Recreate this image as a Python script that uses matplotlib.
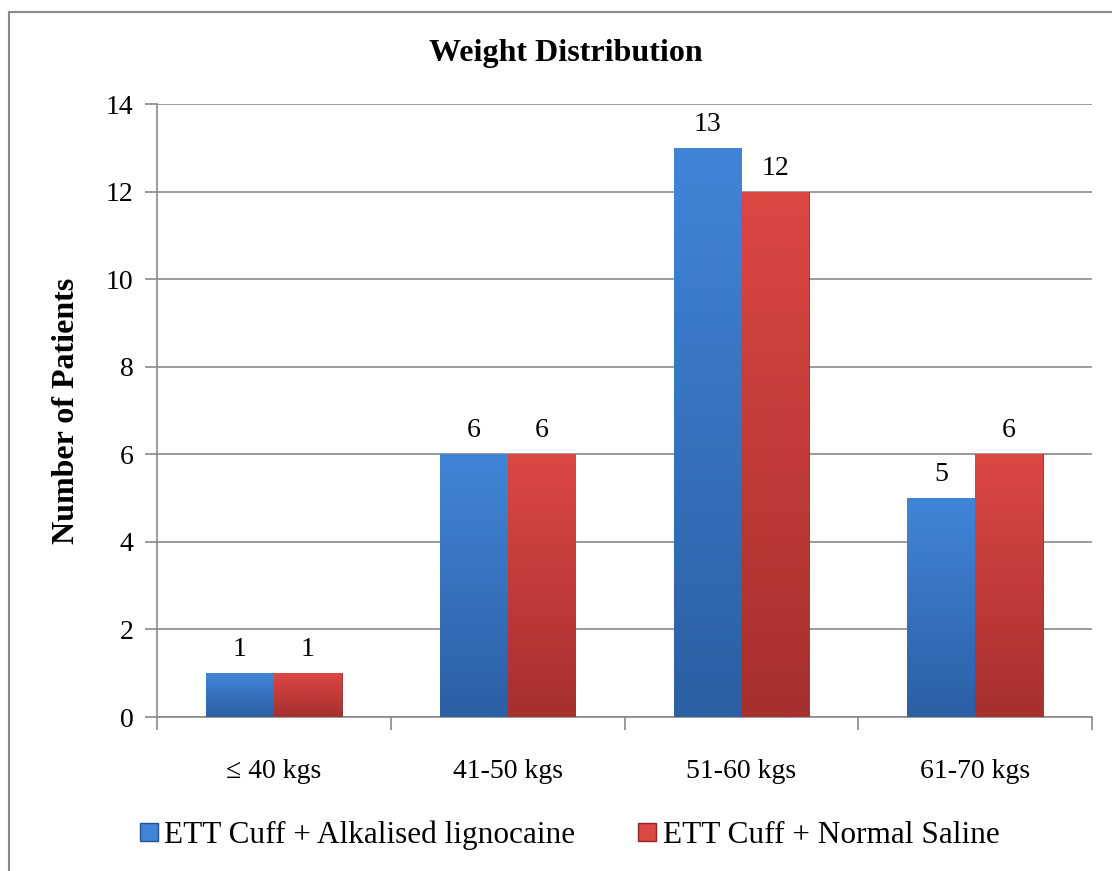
import matplotlib.pyplot as plt
import matplotlib.colors as mcolors
import numpy as np
from matplotlib.lines import Line2D

plt.rcParams['font.family'] = ['Liberation Serif', 'DejaVu Serif']

categories = ['\u2264 40 kgs', '41-50 kgs', '51-60 kgs', '61-70 kgs']
alkalised = [1, 6, 13, 5]
saline = [1, 6, 12, 6]
series_names = ['ETT Cuff + Alkalised lignocaine', 'ETT Cuff + Normal Saline']
yticks = [0, 2, 4, 6, 8, 10, 12, 14]

blue_top, blue_bot = '#4185d8', '#2c5fa3'
red_top, red_bot = '#dd4744', '#a5302e'
grid_col = '#8a8a8a'

fig = plt.figure(figsize=(11.12, 8.71), dpi=100)
ax = fig.add_axes([157 / 1112, 1 - 717 / 871, 935 / 1112, 613 / 871])

x = np.arange(len(categories))
w = 0.29


def gradient_bars(bars, c_top, c_bot):
    cmap = mcolors.LinearSegmentedColormap.from_list('g', [c_bot, c_top])
    grad = np.linspace(0, 1, 256).reshape(-1, 1)
    for b in bars:
        x0, y0 = b.get_x(), b.get_y()
        im = ax.imshow(grad, cmap=cmap, origin='lower', aspect='auto',
                       extent=[x0, x0 + b.get_width(), y0, y0 + b.get_height()],
                       zorder=3)
        im.set_clip_path(b)


b1 = ax.bar(x - w / 2, alkalised, w, color=blue_top, edgecolor='#24508c',
            linewidth=0.6, zorder=3, label=series_names[0])
b2 = ax.bar(x + w / 2, saline, w, color=red_top, edgecolor='#8c2826',
            linewidth=0.6, zorder=3, label=series_names[1])
gradient_bars(b1, blue_top, blue_bot)
gradient_bars(b2, red_top, red_bot)

for bars, vals in ((b1, alkalised), (b2, saline)):
    for b, v in zip(bars, vals):
        ax.text(b.get_x() + b.get_width() / 2, v + 0.25, str(v),
                ha='center', va='bottom', fontsize=20, zorder=4)

ax.set_xlim(-0.5, len(categories) - 0.5)
ax.set_ylim(0, 14)
ax.set_yticks(yticks)
ax.set_xticks(x)
ax.set_xticklabels(categories)
ax.set_xticks(np.arange(-0.5, len(categories)), minor=True)
ax.tick_params(axis='x', which='major', length=0, pad=30, labelsize=20)
ax.tick_params(axis='x', which='minor', length=9, color=grid_col, width=1.2)
ax.tick_params(axis='y', length=9, color=grid_col, width=1.2, pad=8,
               labelsize=20)
ax.yaxis.grid(True, color=grid_col, linewidth=1.2, zorder=0)
ax.set_axisbelow(True)
for s in ('top', 'right'):
    ax.spines[s].set_visible(False)
for s in ('left', 'bottom'):
    ax.spines[s].set_color(grid_col)
    ax.spines[s].set_linewidth(1.2)

ax.set_ylabel('Number of Patients', fontsize=23, fontweight='bold', labelpad=18)
fig.text(566 / 1112, 1 - 54 / 871, 'Weight Distribution', ha='center',
         va='center', fontsize=23, fontweight='bold')

handles = [
    Line2D([], [], marker='s', linestyle='none', markersize=13,
           markerfacecolor=blue_top, markeredgecolor='#24508c'),
    Line2D([], [], marker='s', linestyle='none', markersize=13,
           markerfacecolor=red_top, markeredgecolor='#8c2826'),
]
fig.legend(handles, series_names, loc='center', ncol=2,
           bbox_to_anchor=(568 / 1112, 1 - 835 / 871), frameon=False,
           fontsize=22.5, handletextpad=0.1, columnspacing=1.9,
           handlelength=0.8)

# outer chart border (left and top only visible)
fig.add_artist(Line2D([9 / 1112, 9 / 1112], [0, 1 - 12 / 871],
                      transform=fig.transFigure, color='#8a8a8a', lw=1.5))
fig.add_artist(Line2D([9 / 1112, 1], [1 - 12 / 871, 1 - 12 / 871],
                      transform=fig.transFigure, color='#8a8a8a', lw=1.5))

fig.savefig('out.png', dpi=100)
